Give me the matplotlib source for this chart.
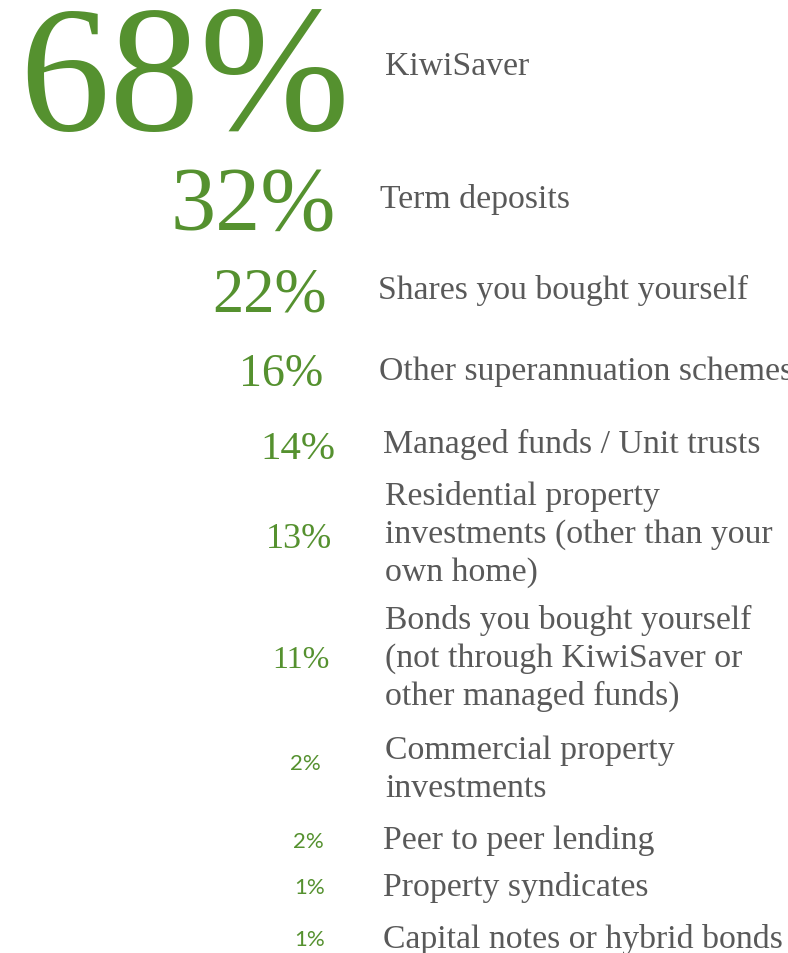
import matplotlib.pyplot as plt

# data
values = [68, 32, 22, 16, 14, 13, 11, 2, 2, 1, 1]
labels = ['KiwiSaver',
          'Term deposits',
          'Shares you bought yourself',
          'Other superannuation schemes',
          'Managed funds / Unit trusts',
          'Residential property\ninvestments (other than your\nown home)',
          'Bonds you bought yourself\n(not through KiwiSaver or\nother managed funds)',
          'Commercial property\ninvestments',
          'Peer to peer lending',
          'Property syndicates',
          'Capital notes or hybrid bonds']

# layout (pixels, figure is 788x954 at dpi 100)
pct_right = [350, 336, 327, 323, 335, 332, 330, 321, 324, 325, 325]
pct_base = [130, 230, 312, 386, 459, 548, 668, 770, 848, 894, 946]
pct_size = [130, 65, 45, 33, 29.5, 26, 23, 16, 16, 16, 16]
lab_left = [385, 380, 378, 379, 383, 385, 385, 385, 383, 383, 383]
lab_base = [75, 208, 299, 380, 453, 505, 629, 759, 849, 896, 948]

green = '#55912f'
grey = '#595959'
line_gap = 38

fig = plt.figure(figsize=(7.88, 9.54), dpi=100, facecolor='white')
ax = fig.add_axes([0, 0, 1, 1])
ax.set_xlim(0, 788)
ax.set_ylim(954, 0)
ax.axis('off')

for i in range(len(values)):
    if pct_size[i] < 20:
        fam = ['Lato', 'DejaVu Sans']
    else:
        fam = ['Liberation Serif', 'DejaVu Serif']
    ax.text(pct_right[i], pct_base[i], str(values[i]) + '%', ha='right', va='baseline',
            fontsize=pct_size[i], color=green, family=fam)
    for j, line in enumerate(labels[i].split('\n')):
        ax.text(lab_left[i], lab_base[i] + j * line_gap, line, ha='left', va='baseline',
                fontsize=24.3, color=grey, family=['Liberation Serif', 'DejaVu Serif'])

plt.savefig('out.png', dpi=100, facecolor='white')
